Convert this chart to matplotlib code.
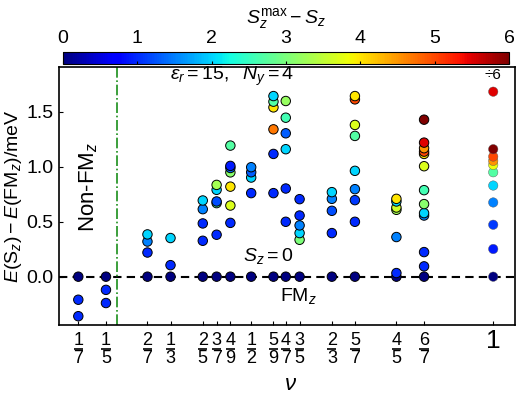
import matplotlib
matplotlib.use("Agg")
import matplotlib.pyplot as plt
import matplotlib.transforms as mtransforms
import numpy as np

plt.rcParams["font.family"] = ["Liberation Sans", "DejaVu Sans"]
plt.rcParams["mathtext.fontset"] = "custom"
plt.rcParams["mathtext.rm"] = "Liberation Sans"
plt.rcParams["mathtext.it"] = "Liberation Sans:italic"
plt.rcParams["mathtext.bf"] = "Liberation Sans:bold"

# filling factors and their tick labels
nu_labels = ["1/7", "1/5", "2/7", "1/3", "2/5", "3/7", "4/9", "1/2", "5/9",
             "4/7", "3/5", "2/3", "5/7", "4/5", "6/7", "1"]
# x position of each column as drawn (4/9 and 5/9 are nudged apart in the figure)
nu_values = [1/7, 1/5, 2/7, 1/3, 2/5, 3/7, 0.457, 1/2, 0.546,
             4/7, 3/5, 2/3, 5/7, 4/5, 6/7, 1.0]

# E(Sz) - E(FMz) in meV, one list per filling factor (nu = 1 is divided by 6)
energies = [
    [0.0, -0.21, -0.36],
    [0.0, -0.12, -0.24],
    [0.0, 0.22, 0.32, 0.385],
    [0.0, 0.105, 0.352],
    [0.0, 0.327, 0.485, 0.615, 0.694],
    [0.0, 0.382, 0.67, 0.685, 0.791, 0.836],
    [0.0, 0.49, 0.648, 0.82, 0.95, 0.99, 1.009, 1.194],
    [0.0, 0.761, 0.903, 0.951, 0.997],
    [0.0, 0.761, 1.118, 1.342, 1.542, 1.594, 1.645],
    [0.0, 0.5, 0.803, 1.161, 1.306, 1.448, 1.6],
    [0.0, 0.336, 0.397, 0.467, 0.557, 0.706],
    [0.0, 0.397, 0.6, 0.709, 0.77],
    [0.0, 0.5, 0.697, 0.797, 0.964, 1.282, 1.382, 1.615, 1.645],
    [0.0, 0.033, 0.361, 0.609, 0.63, 0.685, 0.709],
    [0.0, 0.094, 0.224, 0.557, 0.579, 0.661, 0.788, 1.006, 1.118, 1.139, 1.17, 1.221, 1.43],
    [0.0, 0.252, 0.473, 0.676, 0.83, 0.951, 1.018, 1.055, 1.094, 1.161, 1.685],
]

# Sz^max - Sz for each point (colour)
spin_diff = [
    [0, 1, 1],
    [0, 1, 1],
    [0, 1, 1.5, 2],
    [0, 1, 2],
    [0, 1, 1, 1.5, 2],
    [0, 1, 2.7, 1.2, 2, 3.3],
    [0, 1, 3.7, 4, 3.1, 1.4, 0.9, 2.7],
    [0, 1, 2, 1.3, 1.5],
    [0, 1, 1, 4.7, 4, 2.7, 2],
    [0, 1, 1, 2, 1.3, 2.6, 3.2],
    [0, 3, 2, 1.5, 1, 1],
    [0, 1, 1.2, 1.5, 2],
    [0, 1, 1.1, 1.5, 2, 2.7, 3.7, 5, 4],
    [0, 1, 1.5, 3.3, 3.6, 2, 4],
    [0, 1, 1, 1.5, 2, 3.1, 2.6, 3.7, 4, 5, 4.5, 5.5, 6],
    [0, 0.9, 1.1, 1.5, 2, 2.7, 3.8, 4.5, 5, 6, 5.5],
]

fig = plt.figure(figsize=(5.19, 3.97), dpi=100)
ax = fig.add_axes([0.1137, 0.1814, 0.8786, 0.6499])
cax = fig.add_axes([0.1214, 0.8388, 0.8594, 0.0302])

sc = None
for nu, e, s in zip(nu_values, energies, spin_diff):
    last = nu == 1.0
    sc = ax.scatter([nu] * len(e), e, c=s, cmap="jet", vmin=0, vmax=6, s=46,
                    edgecolors="0.35" if last else "k",
                    linewidths=0.3 if last else 0.7, zorder=3)

ax.axhline(0, color="k", ls=(0, (4, 2.5)), lw=1.5, zorder=2)
ax.axvline(0.222, color="#1a8f1a", ls="-.", lw=1.2, zorder=2)

ax.set_xlim(0.103, 1.045)
ax.set_ylim(-0.44, 1.91)
ax.set_yticks([0.0, 0.5, 1.0, 1.5])
ax.set_yticklabels(["0.0", "0.5", "1.0", "1.5"])
ax.set_xticks(nu_values)
ax.set_xticklabels([])
ax.tick_params(axis="x", direction="in", length=3)
ax.tick_params(axis="y", direction="in", length=3, labelsize=14, pad=4)
for sp in ax.spines.values():
    sp.set_linewidth(1.2)

# fraction tick labels drawn by hand: numerator, bar, denominator
trans = mtransforms.blended_transform_factory(ax.transData, ax.transAxes)
for nu, lab in zip(nu_values, nu_labels):
    if "/" in lab:
        p, q = lab.split("/")
        ax.text(nu, -0.06, p, transform=trans, fontsize=13,
                ha="center", va="center", clip_on=False)
        ax.text(nu, -0.131, q, transform=trans, fontsize=13,
                ha="center", va="center", clip_on=False)
        ax.plot([nu - 0.0095, nu + 0.0095], [-0.094, -0.094], transform=trans,
                color="k", lw=1.2, clip_on=False, solid_capstyle="butt")
    else:
        ax.text(nu, -0.062, lab, transform=trans, fontsize=19,
                ha="center", va="center", clip_on=False)

ax.set_xlabel(r"$\nu$", fontsize=16)
ax.xaxis.set_label_coords(0.507, -0.19)
ax.set_ylabel(r"$E(\mathrm{S}_z) - E(\mathrm{FM}_z)$/meV", fontsize=14, labelpad=2)

ax.text(0.46, 1.82, r"$\varepsilon_r = 15,\ \ N_y = 4$", fontsize=14,
        ha="center", va="center")
ax.text(0.164, 0.82, r"Non-FM$_z$", fontsize=16, rotation=90,
        ha="center", va="center")
ax.text(0.535, 0.19, r"$S_z = 0$", fontsize=14, ha="center", va="center")
ax.text(0.598, -0.18, r"FM$_z$", fontsize=14, ha="center", va="center")
ax.text(1.0, 1.84, "÷6", fontsize=11, ha="center", va="center")

cb = fig.colorbar(sc, cax=cax, orientation="horizontal")
cb.set_ticks(np.arange(0, 7))
cax.tick_params(axis="x", direction="in", bottom=True, top=False,
                labelbottom=False, labeltop=True, labelsize=14, length=2)
cb.outline.set_linewidth(0.8)
cax.xaxis.set_label_position("top")
cax.set_xlabel(r"$S_z^{\mathrm{max}} - S_z$", fontsize=14, labelpad=5)

fig.savefig("out.png", dpi=100)
